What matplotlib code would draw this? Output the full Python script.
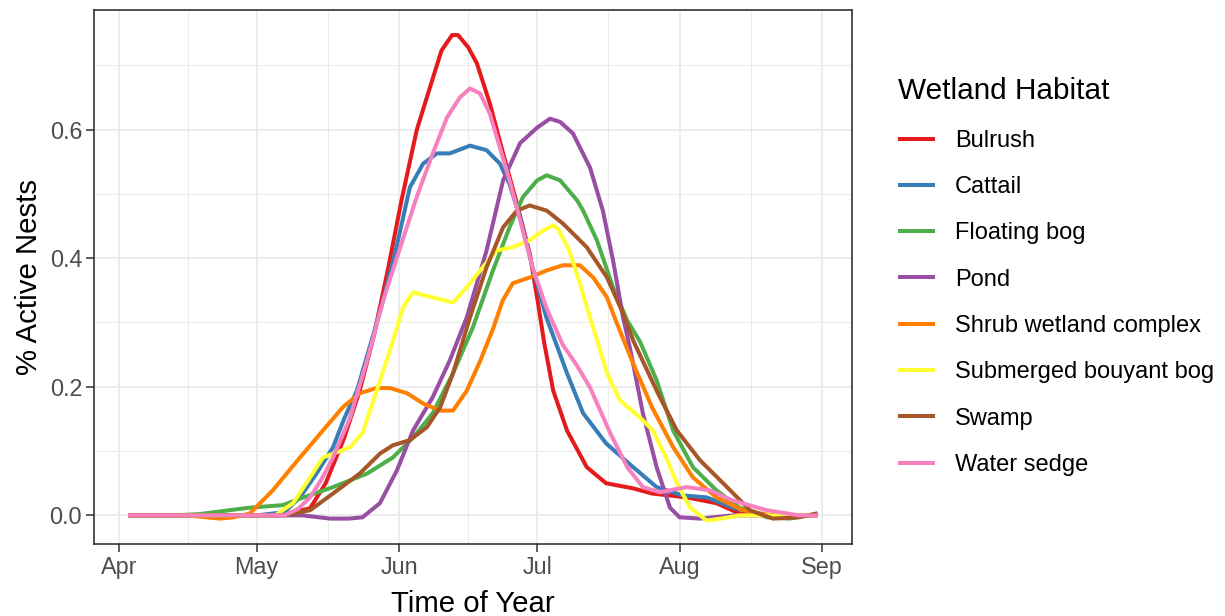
# Nesting activity by wetland habitat, Apr - Sep
import datetime as dt

import numpy as np
import matplotlib
matplotlib.use('Agg')
from matplotlib import pyplot as plt
import matplotlib.dates as mdates

plt.rcParams['font.family'] = ['Liberation Sans', 'DejaVu Sans']

# days after 1 April, and fraction of nests active
bulrush_day = [2, 20, 34, 38, 41.6, 45, 49, 52.4, 55.5, 58.5, 61.5, 64.8, 67.7, 70.2, 72.5, 73.8, 76, 77.9,
               80.7, 83.6, 86.6, 89.4, 91.2, 92.5, 94.5, 97.5, 101.8, 106, 111.9, 116, 123.6, 130, 135, 142, 152]
bulrush_val = [0, 0, 0, 0.005, 0.011, 0.05, 0.12, 0.194, 0.28, 0.381, 0.49, 0.599, 0.666, 0.723, 0.747, 0.747,
               0.728, 0.703, 0.641, 0.563, 0.485, 0.407, 0.33, 0.27, 0.194, 0.132, 0.075, 0.05, 0.042, 0.034,
               0.028, 0.019, 0.003, 0, 0]

cattail_day = [2, 30, 36, 39.4, 43, 46.6, 49, 51.8, 54.5, 57.5, 60.5, 63.3, 66.2, 69.2, 72, 76.4, 80, 82.9, 85,
               87.3, 90, 93, 95.5, 97.5, 101, 106, 111.9, 117, 122.7, 127.9, 133.6, 141, 152]
cattail_val = [0, 0, 0.005, 0.028, 0.065, 0.106, 0.15, 0.194, 0.26, 0.334, 0.42, 0.51, 0.547, 0.563, 0.563,
               0.575, 0.568, 0.547, 0.515, 0.463, 0.386, 0.308, 0.26, 0.221, 0.159, 0.112, 0.075, 0.044, 0.031,
               0.028, 0.012, 0, 0]

floating_day = [2, 12, 17.6, 24, 28.5, 35.7, 39.4, 46.6, 54, 59.6, 64, 68.3, 72.7, 77, 81.4, 85, 87.9, 91, 93.1,
                96, 99.7, 101, 104, 107.5, 110.6, 113.4, 117, 120.6, 124.9, 130, 135, 141, 146, 152]
floating_val = [0, 0, 0.002, 0.008, 0.012, 0.016, 0.026, 0.044, 0.065, 0.09, 0.121, 0.159, 0.221, 0.292, 0.381,
                0.448, 0.495, 0.521, 0.529, 0.521, 0.49, 0.474, 0.428, 0.355, 0.303, 0.27, 0.21, 0.132, 0.075,
                0.039, 0.012, -0.003, -0.005, 0.003]

pond_day = [2, 40, 46, 50, 53, 56.8, 60.5, 64, 68.3, 72, 75.7, 80, 83.6, 87.3, 91, 93.8, 96, 98.8, 102.5, 105.3,
            107.5, 109.7, 111.5, 114, 117, 119.9, 122, 126.4, 133.6, 152]
pond_val = [0, 0, -0.005, -0.005, -0.003, 0.019, 0.07, 0.132, 0.184, 0.241, 0.308, 0.412, 0.521, 0.579, 0.603,
            0.617, 0.612, 0.594, 0.541, 0.474, 0.397, 0.308, 0.25, 0.159, 0.075, 0.012, -0.003, -0.005, 0, 0]

shrub_day = [2, 15, 19, 22, 25, 28.5, 33.5, 39.4, 44.4, 48.7, 52.4, 56.1, 59, 62.7, 66.2, 69.9, 72.7, 75.7, 78.6,
             81.4, 83.5, 85.7, 89.4, 93.1, 96.6, 100.3, 103.2, 106.2, 108, 111.9, 116, 120.6, 124.9, 130, 135.8,
             142, 152]
shrub_val = [0, 0, -0.003, -0.005, -0.003, 0.003, 0.039, 0.09, 0.132, 0.168, 0.19, 0.198, 0.198, 0.19, 0.174,
             0.163, 0.163, 0.194, 0.24, 0.29, 0.334, 0.361, 0.37, 0.381, 0.389, 0.389, 0.37, 0.339, 0.305, 0.236,
             0.168, 0.106, 0.059, 0.028, 0.008, 0, 0]

submerged_day = [2, 34, 37.9, 41.6, 44.4, 47.4, 50.3, 53, 56.1, 59, 61.8, 64, 68.3, 72.7, 75.7, 79.2, 82.2, 85.7,
                 89.4, 92.3, 94.5, 95.5, 98, 100.3, 102.5, 104.7, 106.2, 109, 113.4, 116.2, 119.3, 121.4, 124.3,
                 127.9, 131, 135, 152]
submerged_val = [0, 0, 0.019, 0.059, 0.09, 0.098, 0.106, 0.128, 0.194, 0.257, 0.323, 0.347, 0.339, 0.331, 0.355,
                 0.386, 0.412, 0.417, 0.428, 0.443, 0.451, 0.446, 0.412, 0.361, 0.308, 0.257, 0.221, 0.179, 0.152,
                 0.132, 0.086, 0.05, 0.012, -0.008, -0.005, 0, 0]

swamp_day = [2, 36, 41.6, 46.6, 52.4, 56.8, 59.6, 63.3, 67, 69.9, 72.7, 76.4, 80, 83.6, 86.6, 89.4, 93.1, 96.6,
             99.7, 101.8, 106.2, 109.7, 111.9, 117, 121.4, 126.4, 132.3, 137.3, 142.3, 148, 152]
swamp_val = [0, 0, 0.008, 0.034, 0.065, 0.096, 0.109, 0.117, 0.137, 0.168, 0.221, 0.308, 0.386, 0.448, 0.474,
             0.482, 0.474, 0.454, 0.432, 0.417, 0.37, 0.314, 0.272, 0.194, 0.132, 0.086, 0.044, 0.008, -0.005,
             -0.003, 0.003]

sedge_day = [2, 36, 39, 41.6, 44, 46.6, 50.3, 54, 57.5, 61, 64.8, 68.3, 71.4, 74.2, 76.4, 78.6, 80.7, 82.9, 85,
             87.3, 90, 93, 96.6, 99.5, 102.5, 106.9, 110.6, 114, 117.7, 120.5, 123.6, 128.6, 133.6, 141, 148, 152]
sedge_val = [0, 0, 0.01, 0.028, 0.055, 0.09, 0.152, 0.241, 0.334, 0.412, 0.495, 0.563, 0.619, 0.65, 0.664, 0.656,
             0.625, 0.572, 0.521, 0.459, 0.386, 0.323, 0.265, 0.235, 0.199, 0.128, 0.075, 0.044, 0.036, 0.04,
             0.044, 0.039, 0.023, 0.008, 0, 0]

habitats = ['Bulrush', 'Cattail', 'Floating bog', 'Pond', 'Shrub wetland complex',
            'Submerged bouyant bog', 'Swamp', 'Water sedge']
days = [bulrush_day, cattail_day, floating_day, pond_day, shrub_day, submerged_day, swamp_day, sedge_day]
vals = [bulrush_val, cattail_val, floating_val, pond_val, shrub_val, submerged_val, swamp_val, sedge_val]
colors = ['#E41A1C', '#377EB8', '#4DAF4A', '#984EA3', '#FF7F00', '#FFFF33', '#A65628', '#F781BF']

start = mdates.date2num(dt.datetime(2019, 4, 1))
month_starts = [dt.datetime(2019, m, 1) for m in range(4, 10)]
major_x = mdates.date2num(month_starts)
minor_x = (major_x[:-1] + major_x[1:]) / 2.0

fig = plt.figure(figsize=(12.25, 6.16), dpi=100)
ax = fig.add_axes([94 / 1225, 72 / 616, 758 / 1225, 534 / 616])

for d, v, c, name in zip(days, vals, colors, habitats):
    ax.plot(start + np.array(d), v, color=c, lw=2.9, label=name, solid_capstyle='butt')

ax.set_xlim(start - 5.4, start + 159.5)
ax.set_ylim(-0.0445, 0.786)
ax.set_xticks(major_x)
ax.set_xticks(minor_x, minor=True)
ax.xaxis.set_major_formatter(mdates.DateFormatter('%b'))
ax.set_yticks([0.0, 0.2, 0.4, 0.6])
ax.set_yticks([0.1, 0.3, 0.5, 0.7], minor=True)
ax.set_yticklabels(['0.0', '0.2', '0.4', '0.6'])

ax.grid(which='major', color='#EBEBEB', lw=1.3)
ax.grid(which='minor', color='#EBEBEB', lw=0.7)
ax.set_axisbelow(True)
for s in ax.spines.values():
    s.set_color('#333333')
    s.set_linewidth(1.2)
ax.tick_params(which='major', length=5.5, width=1.1, color='#333333', labelcolor='#4D4D4D',
               labelsize=16.8, pad=3)
ax.tick_params(which='minor', length=0)

ax.set_xlabel('Time of Year', fontsize=21.2, color='black', labelpad=8)
ax.set_ylabel('% Active Nests', fontsize=21.2, color='black', labelpad=5)

leg = ax.legend(loc='upper left', bbox_to_anchor=(889 / 1225, 1 - 68 / 616), bbox_transform=fig.transFigure,
                frameon=False, title='Wetland Habitat', fontsize=17, title_fontsize=21.4,
                handlelength=1.55, handletextpad=0.85, labelspacing=1.03, borderaxespad=0,
                alignment='left')

fig.savefig('out.png', dpi=100)
